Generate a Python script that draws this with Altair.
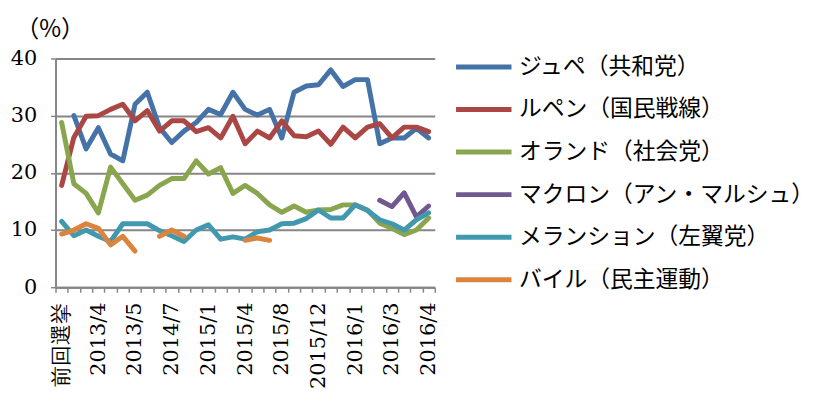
import altair as alt
import pandas as pd

series = ["ジュペ（共和党）", "ルペン（国民戦線）", "オランド（社会党）",
          "マクロン（アン・マルシュ）", "メランション（左翼党）", "バイル（民主運動）"]
colors = ["#4572A7", "#AA4643", "#89A54E", "#71588F", "#4198AF", "#DB843D"]

# category axis: 31 survey points, a label shown on every third one
tick_labels = ["前回選挙", "2013/4", "2013/5", "2014/7", "2015/1", "2015/4",
               "2015/8", "2015/12", "2016/1", "2016/3", "2016/4"]
n_points = 31
label_every = 3

juppe = [None, 30, 24.2, 27.9, 23.3, 22.1, 32, 34.1, 27.9, 25.3, 27.3, 28.8, 31.1,
         30.2, 34.1, 31.1, 30.1, 31.1, 26.1, 34.1, 35.2, 35.4, 38.0, 35.1, 36.3,
         36.3, 25.1, 26.1, 26.1, 27.8, 26.1]
lepen = [17.8, 26.2, 29.9, 30, 31.1, 32, 29.1, 30.9, 27.3, 29.1, 29.1, 27.2, 27.9,
         26.1, 29.9, 25.1, 27.3, 26.1, 29.1, 26.5, 26.3, 27.3, 25.0, 28.0, 26.1,
         28.0, 28.6, 26.1, 28.0, 28.0, 27.2]
hollande = [28.8, 18.1, 16.4, 13, 21, 18.1, 15.2, 16.1, 17.8, 19, 19, 22.1, 19.8,
            20.9, 16.4, 17.8, 16.4, 14.4, 13.1, 14.2, 13.1, 13.5, 13.6, 14.4, 14.4,
            13.5, 11.2, 10.3, 9.2, 10.0, 12.1]
macron = [None] * 26 + [15.2, 14.1, 16.5, 12.3, 14.2]
melenchon = [11.5, 9.0, 10.0, 8.9, 8.0, 11.1, 11.1, 11.1, 9.9, 9.0, 8.0, 10.0, 10.9,
             8.4, 8.8, 8.4, 9.7, 10.0, 11.1, 11.2, 12.0, 13.5, 12.1, 12.1, 14.4,
             13.4, 11.8, 11.1, 10.0, 11.8, 13.0]
bayrou = [9.3, 10.0, 11.1, 10.3, 7.4, 8.9, 6.3, None, 8.9, 10.0, 8.9, None, None,
          None, None, 8.2, 8.6, 8.2] + [None] * 13

values = [juppe, lepen, hollande, macron, melenchon, bayrou]

rows = []
for s, vals in zip(series, values):
    seg = 0
    for i, v in enumerate(vals):
        if v is None:
            seg += 1
            continue
        rows.append({"i": i, "v": v, "s": s, "seg": f"{s}-{seg}"})
df = pd.DataFrame(rows)

full_labels = [tick_labels[i // label_every] if i % label_every == 0 else ""
               for i in range(n_points)]
label_expr = "[" + ",".join(f"'{t}'" for t in full_labels) + "][datum.value]"

GRAY = "#868686"
NUM_FONT = "DejaVu Serif"
JP_FONT = "Noto Sans CJK JP"

chart = alt.Chart(df).mark_line(
    strokeWidth=5, strokeCap="round", strokeJoin="round"
).encode(
    x=alt.X("i:O", bandPosition=0.5,
            scale=alt.Scale(type="band", domain=list(range(n_points)),
                            paddingInner=0, paddingOuter=0),
            axis=alt.Axis(title=None, labelExpr=label_expr, labelAngle=-90,
                          tickBand="extent", labelOverlap=False, grid=False,
                          tickSize=5, tickColor=GRAY, tickWidth=1.5,
                          domainColor=GRAY, domainWidth=2,
                          labelFont=NUM_FONT, labelFontSize=21, labelColor="#000",
                          labelPadding=10)),
    y=alt.Y("v:Q", scale=alt.Scale(domain=[0, 40]),
            axis=alt.Axis(values=[0, 10, 20, 30, 40], title="（%）", titleAngle=0,
                          titleX=-6, titleY=-29, titleAlign="center",
                          titleBaseline="middle", titleFont=JP_FONT,
                          titleFontSize=24,
                          titleFontWeight="normal", titleColor="#000",
                          grid=True, gridColor=GRAY, gridWidth=2,
                          tickSize=5, tickColor=GRAY, tickWidth=1.5,
                          domainColor=GRAY, domainWidth=2,
                          labelFont=NUM_FONT, labelFontSize=21, labelColor="#000",
                          labelPadding=14)),
    color=alt.Color("s:N", scale=alt.Scale(domain=series, range=colors),
                    legend=alt.Legend(title=None, orient="none", legendX=402,
                                      legendY=-22, symbolType="stroke",
                                      symbolStrokeWidth=5, symbolSize=3136,
                                      labelFont=JP_FONT,
                                      labelFontSize=23, labelColor="#000",
                                      labelLimit=400, labelOffset=5,
                                      rowPadding=0)),
    detail="seg:N",
).properties(
    width=383, height=231,
    autosize=alt.AutoSizeParams(type="none"),
    padding={"left": 48, "top": 49, "right": 382, "bottom": 120},
).configure_view(stroke=None)

chart.save("out.html", embed_options={"renderer": "svg", "actions": False})
